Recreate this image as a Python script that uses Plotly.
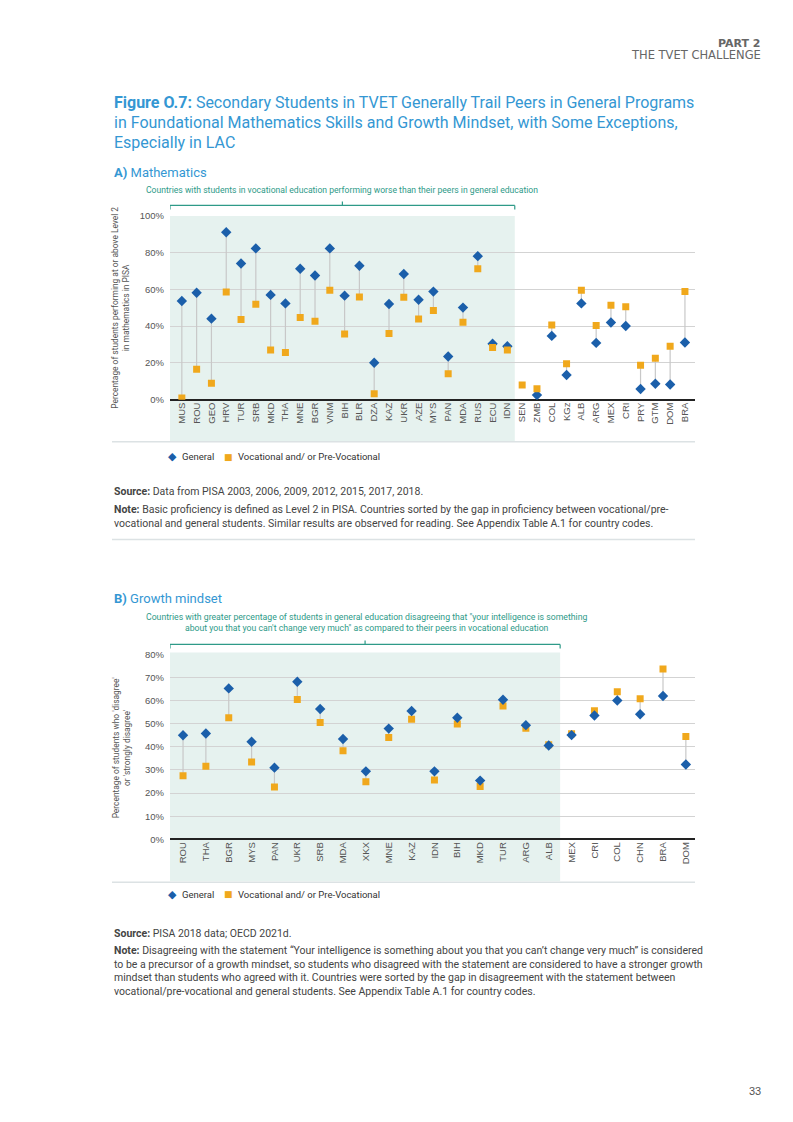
import plotly.graph_objects as go

# ---------------- DATA ----------------
math_countries = ["MUS", "ROU", "GEO", "HRV", "TUR", "SRB", "MKD", "THA", "MNE", "BGR",
                  "VNM", "BIH", "BLR", "DZA", "KAZ", "UKR", "AZE", "MYS", "PAN", "MDA",
                  "RUS", "ECU", "IDN", "SEN", "ZMB", "COL", "KGz", "ALB", "ARG", "MEX",
                  "CRI", "PRY", "GTM", "DOM", "BRA"]
math_general = [53.7, 58.2, 44.1, 91.1, 74.1, 82.3, 57.0, 52.4, 71.2, 67.6,
                82.3, 56.6, 72.9, 20.1, 52.1, 68.4, 54.4, 58.8, 23.5, 50.1,
                78.1, 30.4, 29.1, None, 2.5, 34.7, 13.4, 52.4, 30.9, 42.0,
                40.1, 5.8, 8.7, 8.3, 31.1]
math_vocational = [0.9, 16.6, 8.9, 58.6, 43.6, 51.9, 27.1, 25.7, 44.7, 42.7,
                   59.5, 35.8, 55.9, 3.3, 36.0, 55.7, 43.9, 48.5, 14.1, 42.1,
                   71.2, 28.4, 27.1, 8.0, 6.0, 40.7, 19.5, 59.5, 40.3, 51.4,
                   50.5, 18.8, 22.6, 29.1, 58.8]
math_worse_group_size = 23  # first N countries shaded
math_yticks = [0, 20, 40, 60, 80, 100]
math_yticklabels = ["0%", "20%", "40%", "60%", "80%", "100%"]

growth_countries = ["ROU", "THA", "BGR", "MYS", "PAN", "UKR", "SRB", "MDA", "XKX", "MNE",
                    "KAZ", "IDN", "BIH", "MKD", "TUR", "ARG", "ALB", "MEX", "CRI", "COL",
                    "CHN", "BRA", "DOM"]
growth_general = [45.0, 45.8, 65.3, 42.2, 31.0, 68.2, 56.4, 43.4, 29.4, 47.9,
                  55.5, 29.4, 52.6, 25.4, 60.4, 49.4, 40.6, 45.1, 53.6, 60.1,
                  54.1, 62.0, 32.4]
growth_vocational = [27.5, 31.6, 52.6, 33.4, 22.6, 60.5, 50.5, 38.3, 24.9, 44.1,
                     52.0, 25.7, 49.9, 22.9, 57.7, 48.1, 40.9, 45.7, 55.6, 63.9,
                     60.8, 73.7, 44.5]
growth_group_size = 17
growth_yticks = [0, 10, 20, 30, 40, 50, 60, 70, 80]
growth_yticklabels = ["0%", "10%", "20%", "30%", "40%", "50%", "60%", "70%", "80%"]

# ---------------- STYLE ----------------
OFF = 8  # default page body margin
W, H = 793 - 2 * OFF, 1122 - 2 * OFF
def fx(p):
    return (p - OFF) / W
def fy(p):
    p = (p - 4.0) / 0.991  # empirical vertical correction
    return 1 - (p - OFF) / H

BLUE = "#1B5FAA"
ORANGE = "#F0A81C"
SHADE = "#E6F2EF"
TEAL = "#2E9A88"
TITLE_BLUE = "#3497D3"
GRID = "#D3D3D3"
CONN = "#C8C8C8"
TXT = "#555555"
FONT = "Roboto, Liberation Sans, sans-serif"
FONT_R = "Liberation Sans, Arial, sans-serif"

fig = go.Figure()

def connectors(cats, g, v, xa, ya):
    xs, ys = [], []
    for c, a, b in zip(cats, g, v):
        if a is None or b is None:
            continue
        xs += [c, c, None]
        ys += [a, b, None]
    return go.Scatter(x=xs, y=ys, mode="lines", line=dict(color=CONN, width=1.2),
                      xaxis=xa, yaxis=ya, showlegend=False, hoverinfo="skip")

# Chart A
fig.add_trace(connectors(math_countries, math_general, math_vocational, "x", "y"))
fig.add_trace(go.Scatter(x=math_countries, y=math_general, mode="markers", name="General",
                         marker=dict(symbol="diamond", size=8, color=BLUE),
                         xaxis="x", yaxis="y", showlegend=False))
fig.add_trace(go.Scatter(x=math_countries, y=math_vocational, mode="markers",
                         name="Vocational and/ or Pre-Vocational",
                         marker=dict(symbol="square", size=7, color=ORANGE),
                         xaxis="x", yaxis="y", showlegend=False))
# Chart B
fig.add_trace(connectors(growth_countries, growth_general, growth_vocational, "x2", "y2"))
fig.add_trace(go.Scatter(x=growth_countries, y=growth_vocational, mode="markers",
                         name="Vocational and/ or Pre-Vocational",
                         marker=dict(symbol="square", size=7, color=ORANGE),
                         xaxis="x2", yaxis="y2", showlegend=False))
fig.add_trace(go.Scatter(x=growth_countries, y=growth_general, mode="markers", name="General",
                         marker=dict(symbol="diamond", size=8, color=BLUE),
                         xaxis="x2", yaxis="y2", showlegend=False))

xa_common = dict(type="category", showgrid=False, zeroline=False, showline=False,
                 ticks="", tickangle=-90, tickfont=dict(family=FONT_R, size=9.5, color=TXT),
                 fixedrange=True)
ya_common = dict(showgrid=True, gridcolor=GRID, gridwidth=1, zeroline=True,
                 zerolinecolor="#222222", zerolinewidth=1.6, showline=False, ticks="",
                 ticklabelstandoff=5,
                 tickfont=dict(family=FONT_R, size=9.5, color=TXT), fixedrange=True)

fig.update_layout(
    width=W, height=H, autosize=False,
    margin=dict(l=0, r=0, t=0, b=0),
    paper_bgcolor="white", plot_bgcolor="rgba(0,0,0,0)",
    xaxis=dict(xa_common, domain=[fx(170), fx(695)], range=[-0.8, len(math_countries) - 0.32],
               categoryorder="array", categoryarray=math_countries, anchor="y"),
    yaxis=dict(ya_common, domain=[fy(398), fy(214)], range=[0, 100],
               tickvals=math_yticks, ticktext=math_yticklabels, anchor="x"),
    xaxis2=dict(xa_common, domain=[fx(170), fx(695)], range=[-0.57, len(growth_countries) - 0.6],
                categoryorder="array", categoryarray=growth_countries, anchor="y2"),
    yaxis2=dict(ya_common, domain=[fy(838), fy(653)], range=[0, 80],
                tickvals=growth_yticks, ticktext=growth_yticklabels, anchor="x2"),
    showlegend=False,
)

shapes = []
# shaded regions
shapes.append(dict(type="rect", xref="x", yref="paper", x0=-0.8, x1=math_worse_group_size - 0.5,
                   y0=fy(440), y1=fy(214), fillcolor=SHADE, line=dict(width=0), layer="below"))
shapes.append(dict(type="rect", xref="x2", yref="paper", x0=-0.57, x1=growth_group_size - 0.5,
                   y0=fy(880), y1=fy(651), fillcolor=SHADE, line=dict(width=0), layer="below"))
# brackets
def bracket(xref, x0, x1, yline, ydown, yup):
    xm = (x0 + x1) / 2
    ln = dict(color=TEAL, width=1.2)
    return [
        dict(type="line", xref=xref, yref="paper", x0=x0, x1=x1, y0=fy(yline), y1=fy(yline), line=ln),
        dict(type="line", xref=xref, yref="paper", x0=x0, x1=x0, y0=fy(yline), y1=fy(ydown), line=ln),
        dict(type="line", xref=xref, yref="paper", x0=x1, x1=x1, y0=fy(yline), y1=fy(ydown), line=ln),
        dict(type="line", xref=xref, yref="paper", x0=xm, x1=xm, y0=fy(yline), y1=fy(yup), line=ln),
    ]
shapes += bracket("x", -0.8, math_worse_group_size - 0.5, 203.5, 207.5, 199.5)
shapes += bracket("x2", -0.57, growth_group_size - 0.5, 643, 647, 639)
# separators
for yy in (440, 538, 881):
    shapes.append(dict(type="line", xref="paper", yref="paper", x0=fx(112), x1=fx(695),
                       y0=fy(yy), y1=fy(yy), line=dict(color="#DCE2E4", width=1.5)))
fig.update_layout(shapes=shapes)

ann = []
def text(x, y, s, size, color=TXT, family=FONT, xanchor="left", yanchor="middle",
         align="left", angle=0):
    ann.append(dict(xref="paper", yref="paper", x=fx(x), y=fy(y), text=s, showarrow=False,
                    font=dict(family=family, size=size, color=color), xanchor=xanchor,
                    yanchor=yanchor, align=align, textangle=angle))

# header
text(763, 41, "<b>PART 2</b>", 11, color="#666666", family="DejaVu Sans, sans-serif", xanchor="right")
text(763, 53, "THE TVET CHALLENGE", 11.5, color="#666666", family="DejaVu Sans, sans-serif", xanchor="right")
# title (one annotation per line for exact line spacing)
title_lines = ["<b>Figure O.7:</b> Secondary Students in TVET Generally Trail Peers in General Programs",
               "in Foundational Mathematics Skills and Growth Mindset, with Some Exceptions,",
               "Especially in LAC"]
for i, line in enumerate(title_lines):
    text(112, 101 + 20 * i, line, 16, color=TITLE_BLUE)
# panel A
text(112, 171, "<b>A)</b> Mathematics", 13, color=TITLE_BLUE)
text(342, 188, "Countries with students in vocational education performing worse than their peers in general education",
     8.6, color=TEAL, xanchor="center")
text(121, 306, "Percentage of students performing at or above Level 2<br>in mathematics in PISA",
     8.4, color=TXT, xanchor="center", align="center", angle=-90)
# legends (manual)
def legend(y):
    text(172, y, "\u25c6", 11, color=BLUE, family="DejaVu Sans, sans-serif", xanchor="center")
    text(180, y, "General", 9.5, color="#333333")
    text(228, y, "\u25a0", 9, color=ORANGE, family="DejaVu Sans, sans-serif", xanchor="center")
    text(236, y, "Vocational and/ or Pre-Vocational", 9.5, color="#333333")
legend(455)
text(112, 490, "<b>Source:</b> Data from PISA 2003, 2006, 2009, 2012, 2015, 2017, 2018.", 10.5, color="#444444")
text(112, 499, "<b>Note:</b> Basic proficiency is defined as Level 2 in PISA. Countries sorted by the gap in proficiency between vocational/pre-<br>"
     "vocational and general students. Similar results are observed for reading. See Appendix Table A.1 for country codes.",
     10.5, color="#444444", yanchor="top")
# panel B
text(112, 597, "<b>B)</b> Growth mindset", 13, color=TITLE_BLUE)
text(366, 621, "Countries with greater percentage of students in general education disagreeing that \"your intelligence is something<br>"
     "about you that you can't change very much\" as compared to their peers in vocational education",
     8.7, color=TEAL, xanchor="center", align="center")
text(121, 746, "Percentage of students who 'disagree'<br>or 'strongly disagree'",
     8.4, color=TXT, xanchor="center", align="center", angle=-90)
legend(893)
text(112, 932, "<b>Source:</b> PISA 2018 data; OECD 2021d.", 10.5, color="#444444")
text(112, 941, "<b>Note:</b> Disagreeing with the statement \u201cYour intelligence is something about you that you can\u2019t change very much\u201d is considered<br>"
     "to be a precursor of a growth mindset, so students who disagreed with the statement are considered to have a stronger growth<br>"
     "mindset than students who agreed with it. Countries were sorted by the gap in disagreement with the statement between<br>"
     "vocational/pre-vocational and general students. See Appendix Table A.1 for country codes.",
     10.5, color="#444444", yanchor="top")
# page number
text(763, 1090, "33", 11, color="#555555", family=FONT_R, xanchor="right")
fig.update_layout(annotations=ann)

fig.write_html("out.html")
